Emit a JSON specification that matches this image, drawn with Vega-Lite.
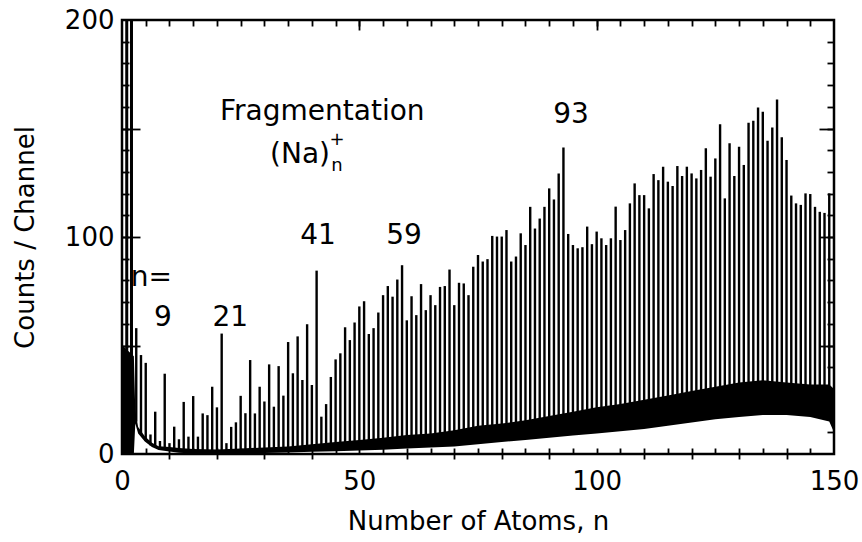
{
  "$schema": "https://vega.github.io/schema/vega-lite/v6.json",
  "width": 712,
  "height": 434,
  "autosize": {"type": "none"},
  "padding": {"left": 122, "top": 20, "right": 28, "bottom": 88},
  "background": "white",
  "config": {
    "view": {"stroke": "black", "strokeWidth": 2.5},
    "font": "DejaVu Sans",
    "axis": {
      "grid": false, "domain": false, "labelColor": "black", "titleColor": "black",
      "tickColor": "black", "tickWidth": 1.8, "labelFont": "DejaVu Sans", "titleFont": "DejaVu Sans",
      "labelFontSize": 26, "titleFontSize": 26, "titleFontWeight": "normal", "labelFlush": false
    }
  },
  "datasets": {
    "band": [
      {"n": 0.1, "lo": 0, "hi": 50}, {"n": 2.5, "lo": 0, "hi": 45}, {"n": 2.8, "lo": 14, "hi": 20},
      {"n": 3.4, "lo": 9.5, "hi": 12.5}, {"n": 4.8, "lo": 5.8, "hi": 8.2}, {"n": 6.3, "lo": 3.2, "hi": 5.2},
      {"n": 7.7, "lo": 1.8, "hi": 3.6}, {"n": 10, "lo": 1.2, "hi": 3.2}, {"n": 12, "lo": 0.6, "hi": 2.8},
      {"n": 15, "lo": 0.2, "hi": 2.3}, {"n": 20, "lo": 0.1, "hi": 2.1}, {"n": 25, "lo": 0.3, "hi": 2.5},
      {"n": 30, "lo": 0.5, "hi": 3}, {"n": 35, "lo": 0.7, "hi": 3.5}, {"n": 40, "lo": 1, "hi": 4.5},
      {"n": 45, "lo": 1.3, "hi": 5.5}, {"n": 50, "lo": 1.6, "hi": 6.5}, {"n": 55, "lo": 2, "hi": 7.5},
      {"n": 60, "lo": 2.5, "hi": 8.8}, {"n": 65, "lo": 3, "hi": 9.5}, {"n": 70, "lo": 3.5, "hi": 11},
      {"n": 75, "lo": 4.5, "hi": 13}, {"n": 80, "lo": 5.5, "hi": 14}, {"n": 85, "lo": 6.5, "hi": 15.5},
      {"n": 90, "lo": 7.5, "hi": 17.5}, {"n": 95, "lo": 8.5, "hi": 19.5}, {"n": 100, "lo": 9.5, "hi": 21.5},
      {"n": 105, "lo": 10.5, "hi": 23}, {"n": 110, "lo": 11.5, "hi": 25}, {"n": 115, "lo": 13, "hi": 27},
      {"n": 120, "lo": 14.5, "hi": 29}, {"n": 125, "lo": 16, "hi": 31}, {"n": 130, "lo": 17, "hi": 33},
      {"n": 135, "lo": 18, "hi": 34}, {"n": 140, "lo": 18, "hi": 33}, {"n": 145, "lo": 17, "hi": 32},
      {"n": 149, "lo": 15, "hi": 32}, {"n": 150, "lo": 10, "hi": 30}
    ],
    "peaks": [
      {"n": 3, "base": 15, "c": 58}, {"n": 4, "base": 9, "c": 45.6}, {"n": 5, "base": 6, "c": 42},
      {"n": 6, "base": 4, "c": 9}, {"n": 7, "base": 3, "c": 19.5}, {"n": 8, "base": 2.5, "c": 6},
      {"n": 9, "base": 2, "c": 37}, {"n": 10, "base": 1.5, "c": 5}, {"n": 11, "base": 1.5, "c": 12.6},
      {"n": 12, "base": 1, "c": 6.8}, {"n": 13, "base": 1, "c": 24}, {"n": 14, "base": 1, "c": 8},
      {"n": 15, "base": 1, "c": 26.7}, {"n": 16, "base": 1, "c": 8}, {"n": 17, "base": 1, "c": 18.7},
      {"n": 18, "base": 1, "c": 17.9}, {"n": 19, "base": 1, "c": 31}, {"n": 20, "base": 1, "c": 21.5},
      {"n": 21, "base": 1, "c": 55.5}, {"n": 22, "base": 1, "c": 5}, {"n": 23, "base": 1, "c": 12.5},
      {"n": 24, "base": 1, "c": 14.6}, {"n": 25, "base": 1, "c": 26.8}, {"n": 26, "base": 1, "c": 18.8},
      {"n": 27, "base": 1, "c": 43.3}, {"n": 28, "base": 1, "c": 18.7}, {"n": 29, "base": 1, "c": 31},
      {"n": 30, "base": 1, "c": 24.2}, {"n": 31, "base": 1.5, "c": 41.3}, {"n": 32, "base": 1.5, "c": 21.8},
      {"n": 33, "base": 1.5, "c": 40.5}, {"n": 34, "base": 1.5, "c": 26.9}, {"n": 35, "base": 1.5, "c": 51.6},
      {"n": 36, "base": 1.5, "c": 37.2}, {"n": 37, "base": 1.5, "c": 54.2}, {"n": 38, "base": 1.5, "c": 34.1},
      {"n": 39, "base": 1.5, "c": 59.8}, {"n": 40, "base": 2, "c": 31.8}, {"n": 41, "base": 2, "c": 84.5},
      {"n": 42, "base": 2, "c": 17.2}, {"n": 43, "base": 2, "c": 23}, {"n": 44, "base": 2, "c": 35.5},
      {"n": 45, "base": 2.5, "c": 43.6}, {"n": 46, "base": 2.5, "c": 46.4}, {"n": 47, "base": 2.5, "c": 58.4},
      {"n": 48, "base": 2.5, "c": 52.5}, {"n": 49, "base": 2.5, "c": 60.6}, {"n": 50, "base": 3, "c": 68},
      {"n": 51, "base": 3, "c": 70.4}, {"n": 52, "base": 3, "c": 55.3}, {"n": 53, "base": 3, "c": 58},
      {"n": 54, "base": 3, "c": 65.2}, {"n": 55, "base": 3.5, "c": 73.2}, {"n": 56, "base": 3.5, "c": 77.4},
      {"n": 57, "base": 3.5, "c": 72.5}, {"n": 58, "base": 3.5, "c": 80.4}, {"n": 59, "base": 3.5, "c": 87},
      {"n": 60, "base": 4, "c": 61.6}, {"n": 61, "base": 4, "c": 72.7}, {"n": 62, "base": 4, "c": 64},
      {"n": 63, "base": 4, "c": 78.3}, {"n": 64, "base": 4, "c": 66.3}, {"n": 65, "base": 4.5, "c": 73.2},
      {"n": 66, "base": 4.5, "c": 68.6}, {"n": 67, "base": 4.5, "c": 77}, {"n": 68, "base": 4.5, "c": 77.4},
      {"n": 69, "base": 4.5, "c": 85}, {"n": 70, "base": 5.5, "c": 68.6}, {"n": 71, "base": 5.5, "c": 78.9},
      {"n": 72, "base": 5.5, "c": 78.6}, {"n": 73, "base": 5.5, "c": 73.2}, {"n": 74, "base": 5.5, "c": 86.3},
      {"n": 75, "base": 6.5, "c": 91.7}, {"n": 76, "base": 6.5, "c": 88.7}, {"n": 77, "base": 6.5, "c": 89.8},
      {"n": 78, "base": 6.5, "c": 100.5}, {"n": 79, "base": 6.5, "c": 100.2}, {"n": 80, "base": 7.5, "c": 100.2},
      {"n": 81, "base": 7.5, "c": 103.2}, {"n": 82, "base": 7.5, "c": 88.7}, {"n": 83, "base": 7.5, "c": 91},
      {"n": 84, "base": 7.5, "c": 101.7}, {"n": 85, "base": 8.5, "c": 96.3}, {"n": 86, "base": 8.5, "c": 113.9},
      {"n": 87, "base": 8.5, "c": 103.9}, {"n": 88, "base": 8.5, "c": 108.5}, {"n": 89, "base": 8.5, "c": 113.9},
      {"n": 90, "base": 9.5, "c": 122.4}, {"n": 91, "base": 9.5, "c": 117.3}, {"n": 92, "base": 9.5, "c": 129.3},
      {"n": 93, "base": 9.5, "c": 141.2}, {"n": 94, "base": 9.5, "c": 101.4}, {"n": 95, "base": 11, "c": 96.3},
      {"n": 96, "base": 11, "c": 94.8}, {"n": 97, "base": 11, "c": 95.3}, {"n": 98, "base": 11, "c": 104.8},
      {"n": 99, "base": 11, "c": 96.7}, {"n": 100, "base": 12, "c": 102.5}, {"n": 101, "base": 12, "c": 99.4},
      {"n": 102, "base": 12, "c": 96.3}, {"n": 103, "base": 12, "c": 99.4}, {"n": 104, "base": 12, "c": 114},
      {"n": 105, "base": 13, "c": 98.6}, {"n": 106, "base": 13, "c": 103.2}, {"n": 107, "base": 13, "c": 115.5},
      {"n": 108, "base": 13, "c": 124.7}, {"n": 109, "base": 13, "c": 119.3}, {"n": 110, "base": 14, "c": 119.3},
      {"n": 111, "base": 14, "c": 113.2}, {"n": 112, "base": 14, "c": 129}, {"n": 113, "base": 14, "c": 126.2},
      {"n": 114, "base": 14, "c": 132.4}, {"n": 115, "base": 15.5, "c": 125.5}, {"n": 116, "base": 15.5, "c": 123.5},
      {"n": 117, "base": 15.5, "c": 132.7}, {"n": 118, "base": 15.5, "c": 128.1}, {"n": 119, "base": 15.5, "c": 132.4},
      {"n": 120, "base": 17, "c": 129.3}, {"n": 121, "base": 17, "c": 127}, {"n": 122, "base": 17, "c": 130.9},
      {"n": 123, "base": 17, "c": 140.9}, {"n": 124, "base": 17, "c": 127.8}, {"n": 125, "base": 18.5, "c": 136.2},
      {"n": 126, "base": 18.5, "c": 152}, {"n": 127, "base": 18.5, "c": 117.8}, {"n": 128, "base": 18.5, "c": 143.2},
      {"n": 129, "base": 18.5, "c": 128.1}, {"n": 130, "base": 19.5, "c": 141.6}, {"n": 131, "base": 19.5, "c": 133.2},
      {"n": 132, "base": 19.5, "c": 152.6}, {"n": 133, "base": 19.5, "c": 153.6}, {"n": 134, "base": 19.5, "c": 159.7},
      {"n": 135, "base": 20.5, "c": 157.7}, {"n": 136, "base": 20.5, "c": 144.3}, {"n": 137, "base": 20.5, "c": 150.5},
      {"n": 138, "base": 20.5, "c": 163.4}, {"n": 139, "base": 20.5, "c": 146}, {"n": 140, "base": 20, "c": 135.5},
      {"n": 141, "base": 20, "c": 119.1}, {"n": 142, "base": 20, "c": 115.5}, {"n": 143, "base": 20, "c": 114.8},
      {"n": 144, "base": 20, "c": 120.1}, {"n": 145, "base": 19, "c": 119.8}, {"n": 146, "base": 19, "c": 113.9},
      {"n": 147, "base": 19, "c": 111.6}, {"n": 148, "base": 19, "c": 111.1}, {"n": 149, "base": 19, "c": 120.1}
    ],
    "spikes": [{"n": 1, "base": 0, "c": 400}, {"n": 2, "base": 0, "c": 400}],
    "labels": [
      {"label": "Fragmentation", "n": 42.2, "c": 157.5},
      {"label": "(Na)", "n": 37.5, "c": 137.8},
      {"label": "93", "n": 94.6, "c": 156.2},
      {"label": "41", "n": 41.3, "c": 100.5},
      {"label": "59", "n": 59.4, "c": 100.5},
      {"label": "n=", "n": 6.2, "c": 81},
      {"label": "9", "n": 8.6, "c": 62.7},
      {"label": "21", "n": 22.8, "c": 62.7}
    ],
    "scripts": [
      {"label": "+", "n": 45.3, "c": 144.5},
      {"label": "n", "n": 45.3, "c": 132.5}
    ]
  },
  "layer": [
    {
      "data": {"name": "band"},
      "mark": {"type": "area", "color": "black", "interpolate": "linear"},
      "encoding": {
        "x": {"field": "n", "type": "quantitative", "scale": {"domain": [0, 150], "nice": false},
              "axis": {"orient": "bottom", "values": [0, 50, 100, 150], "ticks": false, "labelPadding": 14,
                       "title": "Number of Atoms, n", "titlePadding": 14}},
        "y": {"field": "lo", "type": "quantitative", "scale": {"domain": [0, 200], "nice": false},
              "axis": {"orient": "left", "values": [0, 100, 200], "ticks": false, "labelPadding": 8,
                       "title": "Counts / Channel", "titlePadding": 26}},
        "y2": {"field": "hi"}
      }
    },
    {
      "data": {"name": "peaks"},
      "mark": {"type": "rule", "color": "black", "strokeWidth": 2.4},
      "encoding": {
        "x": {"field": "n", "type": "quantitative", "scale": {"domain": [0, 150], "nice": false},
              "axis": {"orient": "bottom", "values": [5,10,15,20,25,30,35,40,45,50,55,60,65,70,75,80,85,90,95,100,105,110,115,120,125,130,135,140,145],
                       "tickSize": -6, "labels": false, "title": null}},
        "y": {"field": "base", "type": "quantitative", "scale": {"domain": [0, 200], "nice": false},
              "axis": {"orient": "left", "values": [10,20,30,40,50,60,70,80,90,100,110,120,130,140,150,160,170,180,190],
                       "tickSize": -7, "labels": false, "title": null}},
        "y2": {"field": "c"}
      }
    },
    {
      "data": {"name": "spikes"},
      "mark": {"type": "rule", "color": "black", "strokeWidth": 3, "clip": true},
      "encoding": {
        "x": {"field": "n", "type": "quantitative", "scale": {"domain": [0, 150], "nice": false},
              "axis": {"orient": "top", "values": [5,10,15,20,25,30,35,40,45,50,55,60,65,70,75,80,85,90,95,100,105,110,115,120,125,130,135,140,145],
                       "tickSize": -6, "labels": false, "title": null}},
        "y": {"field": "base", "type": "quantitative", "scale": {"domain": [0, 200], "nice": false},
              "axis": {"orient": "right", "values": [10,20,30,40,50,60,70,80,90,100,110,120,130,140,150,160,170,180,190],
                       "tickSize": -7, "labels": false, "title": null}},
        "y2": {"field": "c"}
      }
    },
    {
      "data": {"name": "labels"},
      "mark": {"type": "text", "fontSize": 28, "font": "DejaVu Sans", "color": "black", "align": "center", "baseline": "middle"},
      "encoding": {
        "x": {"field": "n", "type": "quantitative", "scale": {"domain": [0, 150], "nice": false},
              "axis": {"orient": "bottom", "values": [10,20,30,40,60,70,80,90,110,120,130,140],
                       "tickSize": 5, "labels": false, "title": null}},
        "y": {"field": "c", "type": "quantitative", "scale": {"domain": [0, 200], "nice": false},
              "axis": {"orient": "right", "values": [50, 100, 150], "tickSize": -15, "labels": false, "title": null}},
        "text": {"field": "label"}
      }
    },
    {
      "data": {"name": "scripts"},
      "mark": {"type": "text", "fontSize": 18, "font": "DejaVu Sans", "color": "black", "align": "center", "baseline": "middle"},
      "encoding": {
        "x": {"field": "n", "type": "quantitative", "scale": {"domain": [0, 150], "nice": false},
              "axis": {"orient": "top", "values": [50, 100], "tickSize": -10, "labels": false, "title": null}},
        "y": {"field": "c", "type": "quantitative", "scale": {"domain": [0, 200], "nice": false},
              "axis": {"orient": "left", "values": [50, 100, 150], "tickSize": -18, "labels": false, "title": null}},
        "text": {"field": "label"}
      }
    }
  ],
  "resolve": {"axis": {"x": "independent", "y": "independent"}}
}
